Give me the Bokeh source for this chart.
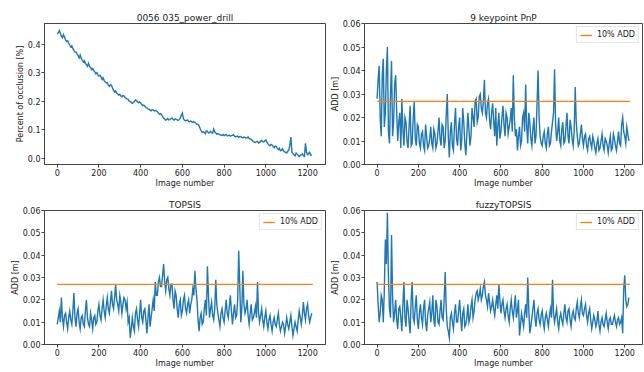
from bokeh.plotting import figure
from bokeh.layouts import column, row
from bokeh.models import FixedTicker, PrintfTickFormatter, Range1d
from bokeh.embed import file_html
from bokeh.resources import INLINE

# image numbers of the two interleaved sample sets
IMAGES_A = list(range(0, 1230, 10))
IMAGES_B = list(range(5, 1220, 10))

OCCLUSION_A = [
    0.435, 0.448, 0.428, 0.434, 0.415, 0.412, 0.396, 0.394, 0.378, 0.372,
    0.36, 0.362, 0.343, 0.342, 0.328, 0.333, 0.318, 0.314, 0.303, 0.3,
    0.288, 0.285, 0.282, 0.268, 0.265, 0.252, 0.256, 0.238, 0.236, 0.225,
    0.224, 0.215, 0.218, 0.21, 0.206, 0.198, 0.192, 0.198, 0.202, 0.194,
    0.194, 0.184, 0.182, 0.176, 0.172, 0.166, 0.169, 0.167, 0.163, 0.154,
    0.152, 0.14, 0.133, 0.139, 0.135, 0.141, 0.133, 0.137, 0.132, 0.141,
    0.158, 0.133, 0.132, 0.129, 0.13, 0.125, 0.126, 0.119, 0.113, 0.096,
    0.092, 0.086, 0.095, 0.089, 0.09, 0.102, 0.088, 0.086, 0.082, 0.08,
    0.079, 0.083, 0.079, 0.077, 0.08, 0.077, 0.076, 0.073, 0.076, 0.071,
    0.073, 0.072, 0.069, 0.066, 0.058, 0.055, 0.059, 0.055, 0.062, 0.057,
    0.064, 0.05, 0.043, 0.046, 0.036, 0.041, 0.03, 0.026, 0.033, 0.022,
    0.018, 0.028, 0.074, 0.015, 0.008, 0.014, 0.005, 0.012, 0.008, 0.052,
    0.012, 0.02, 0.012,
]
OCCLUSION_B = [
    0.44, 0.438, 0.422, 0.425, 0.41, 0.404, 0.39, 0.385, 0.372, 0.366,
    0.352, 0.35, 0.338, 0.332, 0.322, 0.322, 0.31, 0.308, 0.296, 0.292,
    0.29, 0.276, 0.272, 0.264, 0.256, 0.258, 0.246, 0.232, 0.228, 0.221,
    0.218, 0.22, 0.212, 0.207, 0.2, 0.196, 0.196, 0.204, 0.197, 0.198,
    0.188, 0.186, 0.178, 0.172, 0.168, 0.17, 0.166, 0.166, 0.158, 0.156,
    0.146, 0.137, 0.136, 0.134, 0.138, 0.136, 0.138, 0.134, 0.136, 0.15,
    0.138, 0.131, 0.134, 0.128, 0.127, 0.128, 0.122, 0.118, 0.104, 0.09,
    0.09, 0.096, 0.088, 0.094, 0.087, 0.092, 0.084, 0.084, 0.08, 0.083,
    0.081, 0.078, 0.081, 0.079, 0.082, 0.074, 0.077, 0.075, 0.073, 0.074,
    0.07, 0.074, 0.067, 0.062, 0.056, 0.058, 0.053, 0.06, 0.058, 0.061,
    0.056, 0.046, 0.048, 0.04, 0.043, 0.034, 0.035, 0.028, 0.025, 0.02,
    0.024, 0.045, 0.022, 0.012, 0.018, 0.01, 0.009, 0.015, 0.006, 0.02,
    0.016, 0.01,
]

PNP_A = [
    0.028, 0.042, 0.012, 0.045, 0.022, 0.05, 0.009, 0.044, 0.018, 0.038,
    0.01, 0.022, 0.028, 0.008, 0.018, 0.007, 0.025, 0.009, 0.027, 0.008,
    0.016, 0.007, 0.014, 0.006, 0.012, 0.008, 0.016, 0.007, 0.013, 0.009,
    0.02, 0.008, 0.016, 0.01, 0.03, 0.003, 0.018, 0.006, 0.024, 0.008,
    0.02, 0.01, 0.018, 0.004, 0.022, 0.008, 0.024, 0.016, 0.028, 0.02,
    0.03, 0.022, 0.036, 0.02, 0.028, 0.015, 0.026, 0.012, 0.008, 0.022,
    0.014, 0.025, 0.012, 0.02, 0.016, 0.024, 0.038, 0.012, 0.006, 0.016,
    0.01, 0.022, 0.034, 0.009, 0.018, 0.008, 0.02, 0.012, 0.04, 0.012,
    0.008, 0.014, 0.007, 0.016, 0.009, 0.018, 0.0405, 0.01, 0.02, 0.008,
    0.018, 0.01, 0.022, 0.009, 0.016, 0.008, 0.033, 0.012, 0.009, 0.017,
    0.008, 0.013, 0.006, 0.012, 0.007, 0.01, 0.005, 0.011, 0.007, 0.013,
    0.006, 0.01, 0.005, 0.012, 0.007, 0.011, 0.006, 0.014, 0.008, 0.02,
    0.012, 0.016, 0.01,
]
PNP_B = [
    0.036, 0.02, 0.038, 0.016, 0.04, 0.014, 0.03, 0.012, 0.034, 0.022,
    0.018, 0.007, 0.015, 0.02, 0.01, 0.016, 0.008, 0.02, 0.011, 0.017,
    0.009, 0.013, 0.008, 0.017, 0.007, 0.011, 0.009, 0.015, 0.007, 0.014,
    0.011, 0.017, 0.007, 0.021, 0.012, 0.014, 0.008, 0.017, 0.011, 0.016,
    0.006, 0.024, 0.009, 0.013, 0.015, 0.012, 0.02, 0.027, 0.018, 0.029,
    0.024, 0.027, 0.022, 0.026, 0.019, 0.022, 0.018, 0.024, 0.016, 0.011,
    0.02, 0.017, 0.022, 0.013, 0.019, 0.014, 0.02, 0.015, 0.012, 0.008,
    0.02, 0.014, 0.016, 0.022, 0.011, 0.015, 0.009, 0.026, 0.02, 0.009,
    0.012, 0.009, 0.013, 0.008, 0.014, 0.022, 0.017, 0.014, 0.01, 0.015,
    0.009, 0.016, 0.012, 0.019, 0.011, 0.014, 0.018, 0.008, 0.013, 0.011,
    0.012, 0.008, 0.011, 0.009, 0.012, 0.007, 0.009, 0.006, 0.01, 0.008,
    0.011, 0.008, 0.009, 0.006, 0.013, 0.008, 0.01, 0.009, 0.017, 0.014,
    0.009, 0.013,
]

TOPSIS_A = [
    0.009, 0.015, 0.021, 0.008, 0.014, 0.007, 0.015, 0.009, 0.023, 0.008,
    0.016, 0.007, 0.013, 0.008, 0.02, 0.009, 0.014, 0.007, 0.013, 0.01,
    0.018, 0.011, 0.02, 0.012, 0.021, 0.014, 0.024, 0.016, 0.027, 0.018,
    0.022, 0.014, 0.021, 0.016, 0.01, 0.003, 0.012, 0.006, 0.016, 0.008,
    0.02, 0.01, 0.016, 0.005, 0.018, 0.012, 0.02, 0.028, 0.022, 0.03,
    0.026, 0.036, 0.024, 0.03, 0.022, 0.027, 0.016, 0.022, 0.012, 0.02,
    0.015, 0.022, 0.014, 0.02, 0.018, 0.025, 0.033, 0.02, 0.006, 0.014,
    0.01, 0.02, 0.035, 0.012, 0.019, 0.011, 0.029, 0.014, 0.008, 0.016,
    0.01, 0.02, 0.012, 0.022, 0.009, 0.018, 0.013, 0.042, 0.01, 0.033,
    0.014, 0.02, 0.009, 0.018, 0.012, 0.017, 0.028, 0.01, 0.016, 0.008,
    0.015, 0.007, 0.013, 0.006, 0.012, 0.008, 0.014, 0.006, 0.01, 0.005,
    0.012, 0.007, 0.013, 0.004, 0.01, 0.006, 0.015, 0.009, 0.019, 0.011,
    0.018, 0.01, 0.014,
]
TOPSIS_B = [
    0.012, 0.01, 0.012, 0.013, 0.01, 0.012, 0.011, 0.015, 0.012, 0.014,
    0.01, 0.012, 0.009, 0.015, 0.012, 0.008, 0.011, 0.012, 0.009, 0.015,
    0.013, 0.016, 0.015, 0.017, 0.016, 0.019, 0.018, 0.021, 0.02, 0.015,
    0.019, 0.018, 0.02, 0.019, 0.012, 0.007, 0.008, 0.014, 0.011, 0.014,
    0.012, 0.015, 0.011, 0.012, 0.008, 0.016, 0.015, 0.022, 0.028, 0.026,
    0.031, 0.028, 0.029, 0.025, 0.027, 0.02, 0.024, 0.016, 0.018, 0.013,
    0.02, 0.016, 0.018, 0.014, 0.02, 0.022, 0.025, 0.011, 0.012, 0.009,
    0.016, 0.013, 0.022, 0.016, 0.013, 0.016, 0.018, 0.011, 0.014, 0.012,
    0.015, 0.014, 0.017, 0.015, 0.014, 0.012, 0.02, 0.026, 0.016, 0.018,
    0.016, 0.013, 0.014, 0.011, 0.014, 0.012, 0.014, 0.013, 0.011, 0.012,
    0.01, 0.011, 0.009, 0.01, 0.009, 0.011, 0.009, 0.008, 0.009, 0.008,
    0.009, 0.01, 0.008, 0.007, 0.008, 0.011, 0.012, 0.013, 0.014, 0.016,
    0.013, 0.012,
]

FUZZY_A = [
    0.028, 0.01, 0.022, 0.01, 0.047, 0.059, 0.016, 0.049, 0.01, 0.02,
    0.007, 0.017, 0.006, 0.028, 0.008, 0.016, 0.005, 0.028, 0.01, 0.022,
    0.007, 0.018, 0.009, 0.02, 0.006, 0.016, 0.01, 0.022, 0.008, 0.017,
    0.009, 0.02, 0.011, 0.0325, 0.008, 0.003, 0.014, 0.007, 0.018, 0.01,
    0.02, 0.006, 0.016, 0.009, 0.018, 0.012, 0.02, 0.015, 0.023, 0.02,
    0.025, 0.022, 0.028, 0.02, 0.023, 0.015, 0.02, 0.013, 0.022, 0.027,
    0.014, 0.02, 0.012, 0.018, 0.01, 0.02, 0.012, 0.022, 0.015, 0.004,
    0.014, 0.008, 0.018, 0.03, 0.005, 0.012, 0.02, 0.008, 0.016, 0.009,
    0.015, 0.007, 0.014, 0.008, 0.016, 0.029, 0.01, 0.016, 0.007, 0.014,
    0.009, 0.018, 0.01, 0.016, 0.008, 0.015, 0.011, 0.019, 0.012, 0.02,
    0.013, 0.018, 0.01, 0.016, 0.007, 0.013, 0.008, 0.015, 0.006, 0.012,
    0.008, 0.014, 0.007, 0.012, 0.009, 0.013, 0.008, 0.012, 0.01, 0.005,
    0.031, 0.017, 0.021,
]
FUZZY_B = [
    0.018, 0.014, 0.02, 0.024, 0.036, 0.03, 0.012, 0.022, 0.014, 0.011,
    0.016, 0.012, 0.018, 0.012, 0.02, 0.01, 0.02, 0.012, 0.017, 0.011,
    0.014, 0.012, 0.016, 0.01, 0.013, 0.019, 0.014, 0.011, 0.02, 0.01,
    0.015, 0.012, 0.02, 0.016, 0.006, 0.012, 0.01, 0.014, 0.01, 0.015,
    0.012, 0.014, 0.008, 0.012, 0.01, 0.017, 0.012, 0.02, 0.024, 0.022,
    0.02, 0.026, 0.022, 0.017, 0.019, 0.017, 0.016, 0.018, 0.016, 0.02,
    0.018, 0.015, 0.016, 0.013, 0.016, 0.015, 0.017, 0.012, 0.02, 0.009,
    0.011, 0.014, 0.012, 0.016, 0.008, 0.016, 0.012, 0.014, 0.011, 0.013,
    0.01, 0.012, 0.011, 0.013, 0.012, 0.014, 0.013, 0.01, 0.012, 0.011,
    0.014, 0.012, 0.015, 0.011, 0.013, 0.012, 0.016, 0.014, 0.017, 0.014,
    0.016, 0.013, 0.014, 0.011, 0.01, 0.011, 0.01, 0.009, 0.01, 0.009,
    0.011, 0.01, 0.011, 0.009, 0.011, 0.01, 0.011, 0.009, 0.012, 0.025,
    0.02, 0.018,
]

THRESHOLD = 0.0269
THRESHOLD_LABEL = "10% ADD"
X_TICKS = [0, 200, 400, 600, 800, 1000, 1200]
OCC_TICKS = [0.0, 0.1, 0.2, 0.3, 0.4]
ADD_TICKS = [0.0, 0.01, 0.02, 0.03, 0.04, 0.05, 0.06]

BLUE = "#1f77b4"
ORANGE = "#ff7f0e"
FONT = "DejaVu Sans"
TEXT = "#222222"
SPINE = "#444444"


def merge(a_vals, b_vals):
    pts = list(zip(IMAGES_A, a_vals)) + list(zip(IMAGES_B, b_vals))
    pts.sort()
    return [p[0] for p in pts], [p[1] for p in pts]


def make(title, a_vals, b_vals, ylabel, yticks, yfmt, yrange, width, height,
         bl, br, bt, bb, legend):
    p = figure(width=width, height=height, output_backend="svg",
               toolbar_location=None, title=title,
               x_range=Range1d(-61, 1286), y_range=Range1d(*yrange),
               min_border_left=bl, min_border_right=br,
               min_border_top=bt, min_border_bottom=bb)
    p.border_fill_color = "white"
    p.background_fill_color = "white"
    xs, ys = merge(a_vals, b_vals)
    p.line(xs, ys, line_color=BLUE, line_width=1.4, line_join="miter")
    if legend:
        p.line([xs[0], xs[-1] + 5], [THRESHOLD, THRESHOLD],
               line_color=ORANGE, line_width=1.3, legend_label=THRESHOLD_LABEL)
        lg = p.legend[0]
        lg.location = "top_right"
        lg.label_text_font = FONT
        lg.label_text_font_size = "8px"
        lg.label_text_color = TEXT
        lg.border_line_color = "#cccccc"
        lg.border_line_width = 1
        lg.background_fill_alpha = 0.8
        lg.padding = 3
        lg.margin = 3
        lg.spacing = 0
        lg.glyph_width = 12
        lg.glyph_height = 8
        lg.label_height = 8
        lg.label_standoff = 5
    p.title.text_font = FONT
    p.title.text_font_size = "9px"
    p.title.text_font_style = "normal"
    p.title.text_color = TEXT
    p.title.align = "center"
    p.title.standoff = 2
    p.xgrid.visible = False
    p.ygrid.visible = False
    p.outline_line_color = SPINE
    p.outline_line_width = 1
    p.outline_line_alpha = 1
    p.xaxis.ticker = FixedTicker(ticks=X_TICKS)
    p.yaxis.ticker = FixedTicker(ticks=yticks)
    p.xaxis.formatter = PrintfTickFormatter(format="%d")
    p.yaxis.formatter = PrintfTickFormatter(format=yfmt)
    p.xaxis.axis_label = "Image number"
    p.yaxis.axis_label = ylabel
    for ax in (p.xaxis[0], p.yaxis[0]):
        ax.axis_line_color = SPINE
        ax.major_tick_line_color = SPINE
        ax.major_tick_out = 3
        ax.major_tick_in = 0
        ax.minor_tick_line_color = None
        ax.major_label_text_font = FONT
        ax.major_label_text_font_size = "8px"
        ax.major_label_text_color = TEXT
        ax.major_label_standoff = 1
        ax.axis_label_text_font = FONT
        ax.axis_label_text_font_size = "8px"
        ax.axis_label_text_font_style = "normal"
        ax.axis_label_text_color = TEXT
        ax.axis_label_standoff = 0
    return p


p1 = make("0056 035_power_drill", OCCLUSION_A, OCCLUSION_B,
          "Percent of occlusion [%]", OCC_TICKS, "%.1f",
          (-0.0225, 0.4725), 326, 191, 44, 1, 23, 27, False)
p2 = make("9 keypoint PnP", PNP_A, PNP_B, "ADD [m]",
          ADD_TICKS, "%.2f", (0.0, 0.06), 317, 191, 38, 1, 23, 27, True)
p3 = make("TOPSIS", TOPSIS_A, TOPSIS_B, "ADD [m]",
          ADD_TICKS, "%.2f", (0.0, 0.06), 326, 180, 44, 1, 19, 27, True)
p4 = make("fuzzyTOPSIS", FUZZY_A, FUZZY_B, "ADD [m]",
          ADD_TICKS, "%.2f", (0.0, 0.06), 317, 180, 38, 1, 19, 27, True)

layout = column(row(p1, p2), row(p3, p4))
open("out.html", "w").write(file_html(layout, INLINE))
